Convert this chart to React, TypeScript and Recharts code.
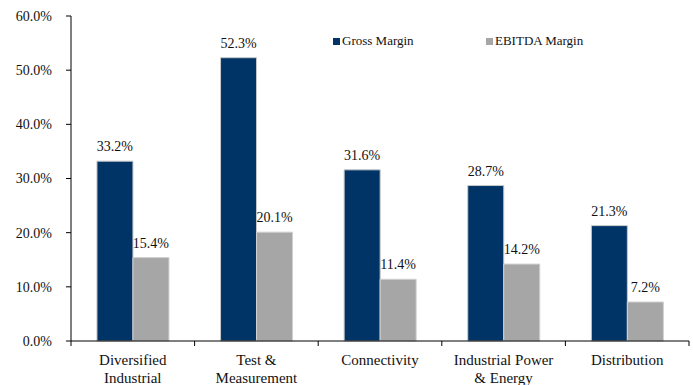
import React from "react";
import { BarChart, Bar, XAxis, YAxis, LabelList } from "recharts";

const categories = ["Diversified Industrial", "Test & Measurement", "Connectivity", "Industrial Power & Energy", "Distribution"];
const categoryLines = [["Diversified", "Industrial"], ["Test &", "Measurement"], ["Connectivity"], ["Industrial Power", "& Energy"], ["Distribution"]];
const grossMargin = [33.2, 52.3, 31.6, 28.7, 21.3];
const ebitdaMargin = [15.4, 20.1, 11.4, 14.2, 7.2];
const yTicks = [0, 10, 20, 30, 40, 50, 60];
const seriesNames = ["Gross Margin", "EBITDA Margin"];

const data = categories.map((c, i) => ({ name: c, idx: i, gross: grossMargin[i], ebitda: ebitdaMargin[i] }));

const W = 693;
const H = 385;
const M = { top: 16, right: 4, left: 0, bottom: 0 };
const YW = 71;
const FONT = "'Liberation Serif', 'DejaVu Serif', serif";
const NAVY = "#003366";
const GRAY = "#A6A6A6";

const XTick = (props: any) => {
  const { x, y, payload, index } = props;
  const step = (W - M.left - M.right - YW) / categories.length;
  const lines = categoryLines[index] || [payload.value];
  return (
    <g>
      <line x1={x - step / 2} y1={y - 8} x2={x - step / 2} y2={y - 3} stroke="#000" strokeWidth={1} />
      {index === categories.length - 1 && (
        <line x1={x + step / 2} y1={y - 8} x2={x + step / 2} y2={y - 3} stroke="#000" strokeWidth={1} />
      )}
      {lines.map((l: string, k: number) => (
        <text key={k} x={x} y={y + 16 + k * 18} textAnchor="middle" fontFamily={FONT} fontSize={15} fill="#111">
          {l}
        </text>
      ))}
    </g>
  );
};

const fmt = (v: any) => `${Number(v).toFixed(1)}%`;

export default function App() {
  return (
    <div style={{ position: "absolute", left: 0, top: 0, width: W, height: H, background: "#fff" }}>
      <BarChart width={W} height={H} data={data} margin={M} barGap={0} barCategoryGap="21%">
        <YAxis
          width={YW}
          domain={[0, 60]}
          ticks={yTicks}
          tickFormatter={fmt}
          axisLine={{ stroke: "#000" }}
          tickLine={{ stroke: "#000" }}
          tickSize={5}
          tickMargin={14}
          tick={{ fontFamily: FONT, fontSize: 14, fill: "#111" }}
        />
        <XAxis
          dataKey="name"
          height={44}
          axisLine={{ stroke: "#000" }}
          tickLine={false}
          interval={0}
          tick={<XTick />}
        />
        <Bar dataKey="gross" name={seriesNames[0]} fill={NAVY} stroke="#C8C8C8" strokeWidth={1} isAnimationActive={false}>
          <LabelList dataKey="gross" position="top" offset={10} formatter={fmt} style={{ fontFamily: FONT, fontSize: 14, fill: "#111" }} />
        </Bar>
        <Bar dataKey="ebitda" name={seriesNames[1]} fill={GRAY} stroke="#D0D0D0" strokeWidth={1} isAnimationActive={false}>
          <LabelList dataKey="ebitda" position="top" offset={10} formatter={fmt} style={{ fontFamily: FONT, fontSize: 14, fill: "#111" }} />
        </Bar>
      </BarChart>
      <div style={{ position: "absolute", left: 333, top: 34, display: "flex", alignItems: "center", fontFamily: FONT, fontSize: 13, color: "#111", lineHeight: "14px" }}>
        <span style={{ width: 7, height: 7, background: NAVY, display: "inline-block", marginRight: 2 }} />
        {seriesNames[0]}
      </div>
      <div style={{ position: "absolute", left: 486, top: 34, display: "flex", alignItems: "center", fontFamily: FONT, fontSize: 13, color: "#111", lineHeight: "14px" }}>
        <span style={{ width: 7, height: 7, background: GRAY, display: "inline-block", marginRight: 2 }} />
        {seriesNames[1]}
      </div>
    </div>
  );
}
